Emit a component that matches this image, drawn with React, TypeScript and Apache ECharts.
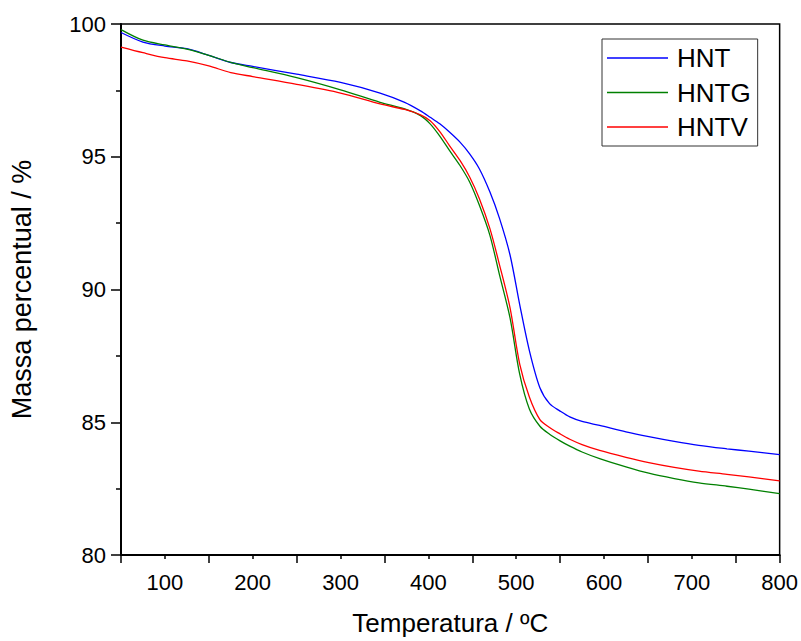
import React, { useEffect, useRef } from "react";
import * as echarts from "echarts";

const temperatures = [50, 75, 100, 125, 150, 175, 200, 250, 300, 345, 373, 391, 402, 413, 424, 436, 447, 458, 470, 481, 493, 504, 515, 527, 538, 550, 561, 575, 595, 625, 651, 680, 708, 740, 765, 800];
const hnt = [99.68, 99.32, 99.17, 99.07, 98.82, 98.55, 98.40, 98.11, 97.80, 97.40, 97.05, 96.73, 96.49, 96.24, 95.93, 95.55, 95.11, 94.55, 93.68, 92.68, 91.30, 89.43, 87.70, 86.30, 85.70, 85.42, 85.20, 85.03, 84.88, 84.64, 84.46, 84.28, 84.13, 84.00, 83.91, 83.78];
const hntg = [99.79, 99.39, 99.21, 99.05, 98.82, 98.55, 98.36, 97.98, 97.52, 97.05, 96.80, 96.55, 96.24, 95.78, 95.24, 94.67, 94.05, 93.18, 92.05, 90.55, 88.93, 86.81, 85.50, 84.85, 84.55, 84.30, 84.10, 83.88, 83.63, 83.32, 83.08, 82.88, 82.72, 82.59, 82.48, 82.31];
const hntv = [99.13, 98.92, 98.73, 98.61, 98.42, 98.17, 98.02, 97.73, 97.40, 96.99, 96.78, 96.58, 96.36, 95.95, 95.42, 94.86, 94.24, 93.43, 92.30, 90.93, 89.31, 87.19, 85.95, 85.10, 84.80, 84.56, 84.36, 84.16, 83.94, 83.68, 83.48, 83.30, 83.16, 83.04, 82.94, 82.79];

const seriesNames = ["HNT", "HNTG", "HNTV"];
const seriesColors = ["#0000ff", "#008000", "#ff0000"];
const xTickLabels = [100, 200, 300, 400, 500, 600, 700, 800];
const xTitle = "Temperatura / ºC";
const yTitle = "Massa percentual / %";

const FONT = "'Liberation Sans', Arial, sans-serif";

export default function App() {
  const ref = useRef<HTMLDivElement>(null);
  useEffect(() => {
    if (!ref.current) return;
    const chart = echarts.init(ref.current, undefined, { renderer: "svg" });
    const allSeries = [hnt, hntg, hntv];
    chart.setOption({
      animation: false,
      backgroundColor: "#ffffff",
      textStyle: { fontFamily: FONT },
      grid: {
        left: 120,
        right: 20,
        top: 24,
        bottom: 82,
        show: true,
        borderColor: "#000",
        borderWidth: 1.5,
      },
      legend: {
        orient: "vertical",
        left: 602,
        top: 39,
        data: seriesNames,
        icon: "rect",
        itemWidth: 61,
        itemHeight: 1.5,
        itemGap: 4.5,
        padding: [4, 7, 4, 5],
        borderColor: "#333",
        borderWidth: 1,
        textStyle: {
          fontFamily: FONT,
          fontSize: 26,
          color: "#000",
          lineHeight: 30,
          padding: [0, 0, 0, 4],
        },
      },
      xAxis: {
        type: "value",
        min: 50,
        max: 800,
        interval: 100,
        name: xTitle,
        nameLocation: "middle",
        nameGap: 55,
        nameTextStyle: { fontFamily: FONT, fontSize: 26, color: "#000" },
        axisLine: { show: true, lineStyle: { color: "#000", width: 2 } },
        axisTick: { show: true, inside: false, length: 8, lineStyle: { color: "#000", width: 1.5 } },
        minorTick: { show: true, splitNumber: 2, length: 4, lineStyle: { color: "#000", width: 1.5 } },
        axisLabel: {
          fontFamily: FONT,
          fontSize: 22,
          color: "#000",
          margin: 16,
          customValues: xTickLabels,
        },
        splitLine: { show: false },
      },
      yAxis: {
        type: "value",
        min: 80,
        max: 100,
        interval: 5,
        name: yTitle,
        nameLocation: "middle",
        nameGap: 86,
        nameTextStyle: { fontFamily: FONT, fontSize: 27, color: "#000" },
        axisLine: { show: true, lineStyle: { color: "#000", width: 2 } },
        axisTick: { show: true, inside: false, length: 10, lineStyle: { color: "#000", width: 1.5 } },
        minorTick: { show: true, splitNumber: 2, length: 5, lineStyle: { color: "#000", width: 1.5 } },
        axisLabel: { fontFamily: FONT, fontSize: 22, color: "#000", margin: 15 },
        splitLine: { show: false },
      },
      series: seriesNames.map((name, i) => ({
        name,
        type: "line",
        data: temperatures.map((t, j) => [t, allSeries[i][j]]),
        smooth: 0.3,
        showSymbol: false,
        symbol: "none",
        lineStyle: { color: seriesColors[i], width: 1.3 },
        itemStyle: { color: seriesColors[i] },
      })),
    });
    return () => chart.dispose();
  }, []);
  return <div ref={ref} style={{ width: 801, height: 641, position: "absolute", left: 0, top: 0 }} />;
}
